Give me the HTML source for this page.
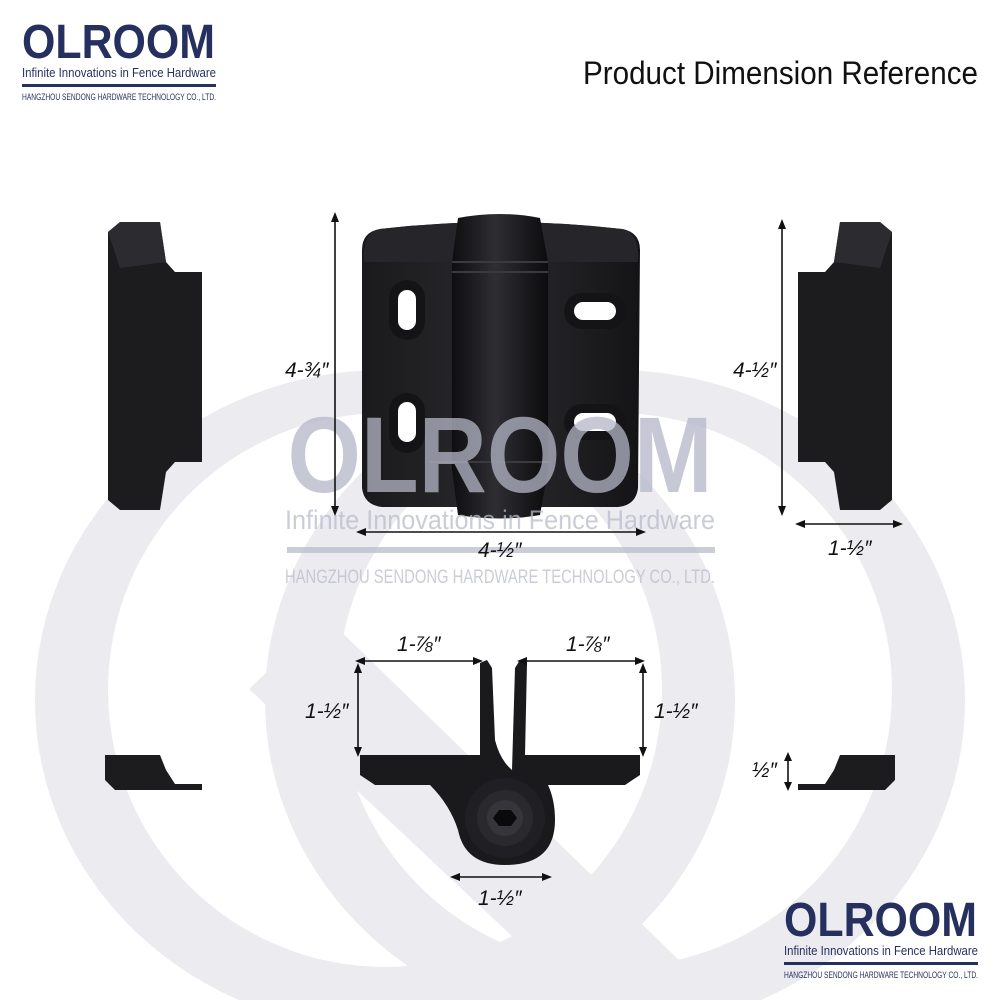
<!DOCTYPE html>
<html><head><meta charset="utf-8"><style>
html,body{margin:0;padding:0;background:#fff;}
body{width:1000px;height:1000px;position:relative;overflow:hidden;font-family:"Liberation Sans",sans-serif;}
</style></head><body>
<svg width="1000" height="1000" viewBox="0 0 1000 1000" style="position:absolute;left:0;top:0">
<defs>
<linearGradient id="g1" x1="0" x2="1"><stop offset="0" stop-color="#1a1a1c"/><stop offset="0.5" stop-color="#2a2a2e"/><stop offset="1" stop-color="#141416"/></linearGradient>
<linearGradient id="gb" x1="0" x2="1"><stop offset="0" stop-color="#0e0e10"/><stop offset="0.45" stop-color="#2e2e33"/><stop offset="1" stop-color="#0c0c0e"/></linearGradient>
</defs>
<!-- background watermark rings -->
<g fill="#ebebf0" fill-rule="evenodd">
<path d="M35,700 a350,330 0 1,0 700,0 a350,330 0 1,0 -700,0 Z M108,690 a277,277 0 1,1 554,0 a277,277 0 1,1 -554,0 Z"/>
<path d="M265,700 a350,330 0 1,0 700,0 a350,330 0 1,0 -700,0 Z M338,690 a277,277 0 1,1 554,0 a277,277 0 1,1 -554,0 Z"/>
</g>
<polygon points="249,689 325,616 720,1000 580,1000" fill="#ebebf0"/>

<!-- left side profile -->
<path d="M108,232 L120,222 L160,222 L166,262 L175,272 L202,272 L202,462 L175,462 L166,472 L160,510 L120,510 L108,500 Z" fill="#1c1c1f"/>
<path d="M108,232 L120,222 L160,222 L166,262 L120,268 Z" fill="#2c2c30"/>
<!-- right side profile -->
<path d="M892,232 L880,222 L840,222 L834,262 L825,272 L798,272 L798,462 L825,462 L834,472 L840,510 L880,510 L892,500 Z" fill="#1c1c1f"/>
<path d="M892,232 L880,222 L840,222 L834,262 L880,268 Z" fill="#2c2c30"/>

<!-- main hinge plate -->
<path d="M380,229 Q440,222 500,222 Q560,222 622,229 Q640,232 640,250 L638,488 Q636,505 618,507 L382,507 Q364,505 362,488 L362,250 Q362,232 380,229 Z" fill="url(#g1)"/>
<path d="M380,229 Q440,222 500,222 Q560,222 622,229 Q640,232 638,262 L364,262 Q362,232 380,229Z" fill="#26262a"/>
<rect x="389" y="280" width="36" height="60" rx="18" fill="#141416"/>
<rect x="398" y="290" width="18" height="40" rx="9" fill="#fff"/>
<rect x="389" y="393" width="36" height="60" rx="18" fill="#141416"/>
<rect x="398" y="402" width="18" height="40" rx="9" fill="#fff"/>
<rect x="564" y="293" width="62" height="36" rx="18" fill="#141416"/>
<rect x="574" y="302" width="42" height="18" rx="9" fill="#fff"/>
<rect x="564" y="404" width="62" height="36" rx="18" fill="#141416"/>
<rect x="574" y="413" width="42" height="18" rx="9" fill="#fff"/>
<path d="M458,218 Q500,210 540,218 L548,262 L548,470 L540,515 Q500,522 458,515 L452,470 L452,262 Z" fill="url(#gb)"/>
<line x1="452" y1="262" x2="548" y2="262" stroke="#3a3a40" stroke-width="2"/>
<line x1="452" y1="272" x2="548" y2="272" stroke="#3a3a40" stroke-width="2"/>
<line x1="430" y1="462" x2="548" y2="462" stroke="#3a3a40" stroke-width="2"/>

<!-- bottom small pieces -->
<path d="M105,755 L160,755 L166,770 L175,784 L202,784 L202,790 L115,790 L105,780 Z" fill="#1c1c1f"/>
<path d="M895,755 L840,755 L834,770 L825,784 L798,784 L798,790 L885,790 L895,780 Z" fill="#1c1c1f"/>

<!-- top view hinge -->
<path d="M360,755 L480,755 L480,663 L487,660 L492,668 L495,740 Q500,760 512,770 L515,668 L520,660 L527,663 L525,755 L640,755 L640,775 L625,785 L548,785 Q555,800 555,820 Q555,865 505,865 Q465,865 458,830 Q450,805 430,785 L375,785 L360,775 Z" fill="#1a1a1d"/>
<circle cx="505" cy="818" r="40" fill="#202024"/>
<circle cx="505" cy="818" r="28" fill="#2a2a2e"/>
<circle cx="505" cy="818" r="18" fill="#35353a"/>
<polygon points="499,810 511,810 517,818 511,826 499,826 493,818" fill="#0a0a0c"/>

<!-- watermark logo -->
<g opacity="0.75" fill="#b9bccb">
<text x="500" y="492" text-anchor="middle" font-family="Liberation Sans" font-weight="bold" font-size="108" textLength="425" lengthAdjust="spacingAndGlyphs" style="fill:#b4b7c7">OLROOM</text>
<text x="500" y="529" text-anchor="middle" font-family="Liberation Sans Narrow, Liberation Sans" font-size="27" textLength="430" lengthAdjust="spacingAndGlyphs">Infinite Innovations in Fence Hardware</text>
<rect x="287" y="547" width="428" height="6"/>
<text x="500" y="583" text-anchor="middle" font-family="Liberation Sans Narrow, Liberation Sans" font-size="19" textLength="430" lengthAdjust="spacingAndGlyphs">HANGZHOU SENDONG HARDWARE TECHNOLOGY CO., LTD.</text>
</g>

<!-- dimension arrows -->
<g stroke="#111" stroke-width="1.6" fill="#111">
<line x1="335" y1="218" x2="335" y2="510"/><path d="M335,212 l-4,10 h8z M335,516 l-4,-10 h8z" stroke="none"/>
<line x1="362" y1="532" x2="640" y2="532"/><path d="M356,532 l10,-4 v8z M646,532 l-10,-4 v8z" stroke="none"/>
<line x1="782" y1="225" x2="782" y2="510"/><path d="M782,219 l-4,10 h8z M782,516 l-4,-10 h8z" stroke="none"/>
<line x1="800" y1="524" x2="898" y2="524"/><path d="M795,524 l10,-4 v8z M903,524 l-10,-4 v8z" stroke="none"/>
<line x1="360" y1="661" x2="478" y2="661"/><path d="M355,661 l10,-4 v8z M483,661 l-10,-4 v8z" stroke="none"/>
<line x1="522" y1="661" x2="640" y2="661"/><path d="M517,661 l10,-4 v8z M645,661 l-10,-4 v8z" stroke="none"/>
<line x1="358" y1="668" x2="358" y2="752"/><path d="M358,663 l-4,10 h8z M358,757 l-4,-10 h8z" stroke="none"/>
<line x1="643" y1="668" x2="643" y2="752"/><path d="M643,663 l-4,10 h8z M643,757 l-4,-10 h8z" stroke="none"/>
<line x1="788" y1="757" x2="788" y2="786"/><path d="M788,752 l-4,9 h8z M788,791 l-4,-9 h8z" stroke="none"/>
<line x1="455" y1="877" x2="547" y2="877"/><path d="M450,877 l10,-4 v8z M552,877 l-10,-4 v8z" stroke="none"/>
</g>
<g font-family="Liberation Sans Narrow, Liberation Sans" font-style="italic" font-size="21" fill="#111">
<text x="285" y="377">4-¾″</text>
<text x="478" y="557">4-½″</text>
<text x="733" y="377">4-½″</text>
<text x="828" y="555">1-½″</text>
<text x="397" y="651">1-⅞″</text>
<text x="566" y="651">1-⅞″</text>
<text x="305" y="718">1-½″</text>
<text x="654" y="718">1-½″</text>
<text x="752" y="777">½″</text>
<text x="478" y="905">1-½″</text>
</g>

<text x="978" y="84" text-anchor="end" font-family="Liberation Sans Narrow, Liberation Sans" font-size="32" fill="#111" textLength="395" lengthAdjust="spacingAndGlyphs">Product Dimension Reference</text>

<g fill="#26305e">
<text x="22" y="58" font-family="Liberation Sans" font-weight="bold" font-size="48" textLength="193" lengthAdjust="spacingAndGlyphs">OLROOM</text>
<text x="22" y="77" font-family="Liberation Sans Narrow, Liberation Sans" font-size="13" textLength="194" lengthAdjust="spacingAndGlyphs">Infinite Innovations in Fence Hardware</text>
<rect x="22" y="84" width="194" height="3"/>
<text x="22" y="100" font-family="Liberation Sans Narrow, Liberation Sans" font-size="9" textLength="194" lengthAdjust="spacingAndGlyphs">HANGZHOU SENDONG HARDWARE TECHNOLOGY CO., LTD.</text>
</g>
<g fill="#26305e">
<text x="784" y="936" font-family="Liberation Sans" font-weight="bold" font-size="48" textLength="193" lengthAdjust="spacingAndGlyphs">OLROOM</text>
<text x="784" y="955" font-family="Liberation Sans Narrow, Liberation Sans" font-size="13" textLength="194" lengthAdjust="spacingAndGlyphs">Infinite Innovations in Fence Hardware</text>
<rect x="784" y="962" width="194" height="3"/>
<text x="784" y="978" font-family="Liberation Sans Narrow, Liberation Sans" font-size="9" textLength="194" lengthAdjust="spacingAndGlyphs">HANGZHOU SENDONG HARDWARE TECHNOLOGY CO., LTD.</text>
</g>
</svg>
</body></html>
